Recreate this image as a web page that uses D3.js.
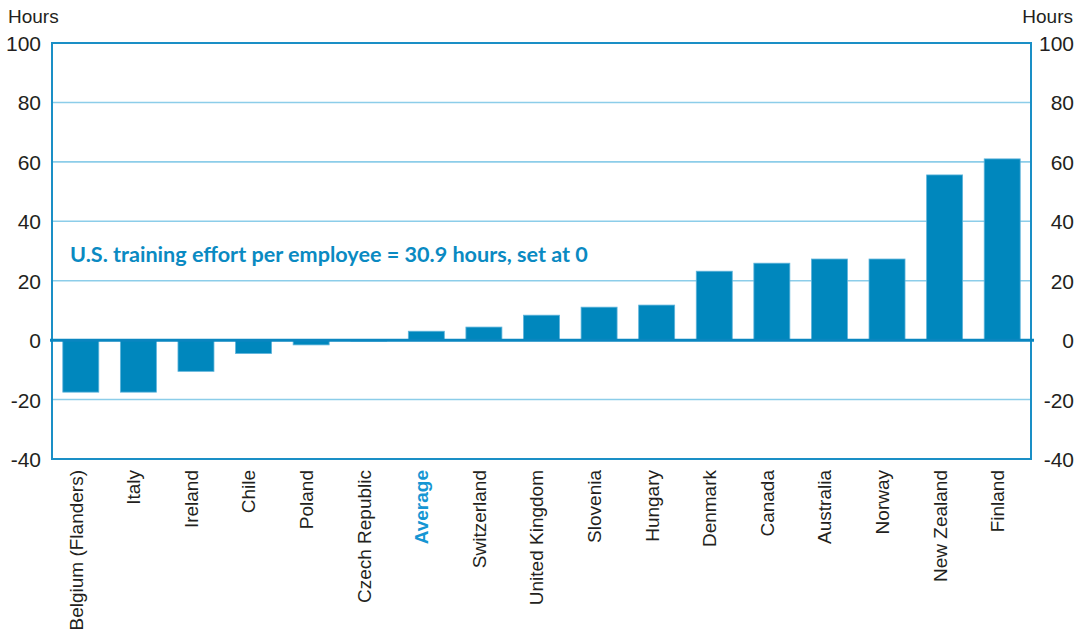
<!DOCTYPE html>
<html>
<head>
  <meta charset="utf-8">
  <title>Training effort per employee</title>
  <script src="https://d3js.org/d3.v7.min.js"></script>
  <style>
    body { margin: 0; background: #fff; }
  </style>
</head>
<body>
<div id="vis"></div>
<script>
// data (hours, relative to the U.S. = 0)
var countries = ["Belgium (Flanders)", "Italy", "Ireland", "Chile", "Poland", "Czech Republic",
  "Average", "Switzerland", "United Kingdom", "Slovenia", "Hungary", "Denmark", "Canada",
  "Australia", "Norway", "New Zealand", "Finland"];
var hours = [-17.5, -17.5, -10.5, -4.5, -1.6, -0.3, 3.0, 4.4, 8.4, 11.1, 11.8, 23.2, 25.9, 27.3, 27.3, 55.6, 61.0];
var yTicks = [-40, -20, 0, 20, 40, 60, 80, 100];
var note = "U.S. training effort per employee = 30.9 hours, set at 0";

var W = 1076, H = 639;
var mLeft = 52, mRight = 1031, mTop = 43, mBottom = 459;
var font = "'Liberation Sans', Arial, sans-serif";
var ink = "#231f20";

var svg = d3.select("#vis").append("svg")
  .attr("width", W)
  .attr("height", H);

var x = d3.scaleBand()
  .domain(countries)
  .range([mLeft, mRight])
  .paddingInner(0.375)
  .paddingOuter(0.1875);

var y = d3.scaleLinear()
  .domain([-40, 100])
  .range([mBottom, mTop]);

// gridlines
svg.append("g")
  .selectAll("line")
  .data(yTicks.filter(function(t){ return t != 0 && t != 100 && t != -40 }))
  .enter().append("line")
  .attr("x1", mLeft).attr("x2", mRight)
  .attr("y1", function(d){ return y(d) }).attr("y2", function(d){ return y(d) })
  .attr("stroke", "#8ccde9")
  .attr("stroke-width", 1.6);

// bars
svg.append("g")
  .selectAll("rect")
  .data(hours)
  .enter().append("rect")
  .attr("x", function(d, i){ return x(countries[i]) })
  .attr("width", x.bandwidth())
  .attr("y", function(d){ return y(Math.max(0, d)) })
  .attr("height", function(d){ return Math.abs(y(d) - y(0)) })
  .attr("fill", "#0087bd")
  .attr("stroke", "#5fb4db")
  .attr("stroke-width", 0.8);

// frame
svg.append("rect")
  .attr("x", mLeft).attr("y", mTop)
  .attr("width", mRight - mLeft).attr("height", mBottom - mTop)
  .attr("fill", "none")
  .attr("stroke", "#1a8fc6")
  .attr("stroke-width", 2);

// zero line
svg.append("line")
  .attr("x1", mLeft - 2).attr("x2", mRight + 3)
  .attr("y1", y(0)).attr("y2", y(0))
  .attr("stroke", "#0a86c0")
  .attr("stroke-width", 3);

// left and right axes (plain hyphen for negatives, like the original)
function fmt(d){ return String(d) }
var gl = svg.append("g")
  .attr("transform", "translate(41,0)")
  .call(d3.axisLeft(y).tickValues(yTicks).tickFormat(fmt).tickSize(0).tickPadding(0));
var gr = svg.append("g")
  .attr("transform", "translate(1074,0)")
  .call(d3.axisLeft(y).tickValues(yTicks).tickFormat(fmt).tickSize(0).tickPadding(0));
[gl, gr].forEach(function(g){
  g.select(".domain").remove();
  g.selectAll("text")
    .attr("dy", "0.36em")
    .style("font-size", "21px")
    .style("font-family", font)
    .style("fill", ink);
});

svg.append("text")
  .attr("x", 8).attr("y", 23)
  .style("font-size", "19px").style("font-family", font).style("fill", ink)
  .text("Hours");
svg.append("text")
  .attr("x", 1073).attr("y", 23)
  .attr("text-anchor", "end")
  .style("font-size", "19px").style("font-family", font).style("fill", ink)
  .text("Hours");

// category labels
var gx = svg.append("g")
  .attr("transform", "translate(0," + (mBottom + 11) + ")")
  .call(d3.axisBottom(x).tickSize(0).tickPadding(0));
gx.select(".domain").remove();
gx.selectAll("text")
  .attr("transform", "rotate(-90)")
  .attr("text-anchor", "end")
  .attr("x", 0).attr("y", 0)
  .attr("dy", "0.1em")
  .style("font-size", "19px")
  .style("font-family", font)
  .style("fill", function(d){ return d == "Average" ? "#1696d3" : ink })
  .style("font-weight", function(d){ return d == "Average" ? "bold" : "normal" });

// annotation
svg.append("text")
  .attr("x", 70).attr("y", 262)
  .style("font-family", "Lato, 'Open Sans', sans-serif")
  .style("font-weight", "bold")
  .style("font-size", "21.6px")
  .style("fill", "#0a8ac2")
  .text(note);
</script>
</body>
</html>
